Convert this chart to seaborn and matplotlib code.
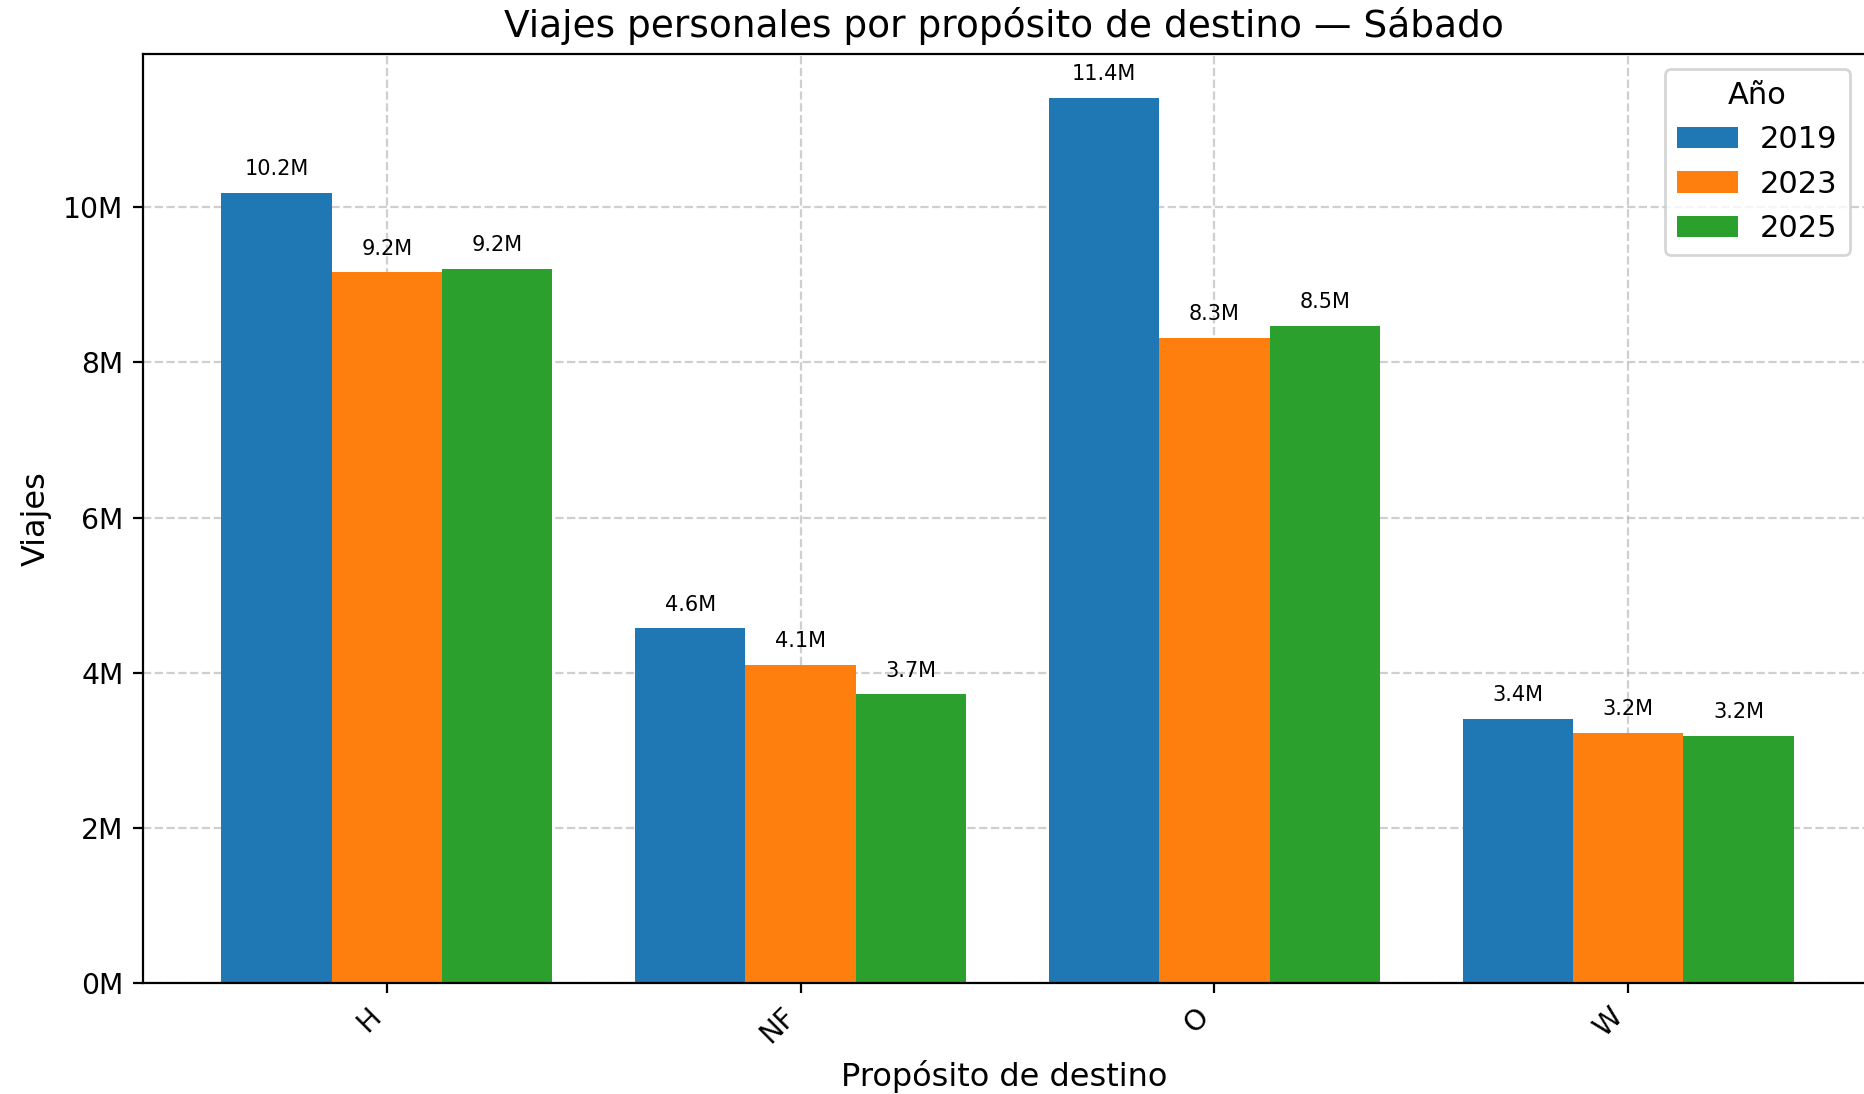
"""
Viajes personales por propósito de destino (sábado), barras agrupadas por año.
"""

import matplotlib

matplotlib.use("Agg")
import matplotlib.pyplot as plt
import pandas as pd
import seaborn as sns
from matplotlib.ticker import FuncFormatter

purposes = ["H", "NF", "O", "W"]
years = ["2019", "2023", "2025"]
trips_2019 = [10.18e6, 4.57e6, 11.41e6, 3.40e6]
trips_2023 = [9.16e6, 4.10e6, 8.31e6, 3.22e6]
trips_2025 = [9.21e6, 3.72e6, 8.47e6, 3.19e6]


def main():
    df = pd.DataFrame({
        "Propósito": purposes * 3,
        "Año": [y for y in years for _ in purposes],
        "Viajes": trips_2019 + trips_2023 + trips_2025,
    })

    fig, ax = plt.subplots(figsize=(9.325, 5.47), dpi=200)
    fig.subplots_adjust(left=0.0767, right=1.0, bottom=0.1015, top=0.951)

    sns.barplot(
        data=df, x="Propósito", y="Viajes", hue="Año",
        order=purposes, hue_order=years,
        palette=["#1f77b4", "#ff7f0e", "#2ca02c"], saturation=1,
        width=0.8, errorbar=None, ax=ax, zorder=2,
    )

    for container in ax.containers:
        ax.bar_label(
            container,
            labels=[f"{b.get_height() / 1e6:.1f}M" for b in container],
            padding=5, fontsize=7.5,
        )

    ax.set_xlim(-0.589, 3.572)
    ax.set_ylim(0, max(trips_2019) * 1.05)
    ax.yaxis.set_major_formatter(FuncFormatter(lambda v, _: f"{v / 1e6:.0f}M"))
    ax.grid(True, linestyle="--", alpha=0.6)
    for line in ax.get_xgridlines() + ax.get_ygridlines():
        line.set_zorder(3)
    ax.spines["right"].set_visible(False)

    ax.tick_params(axis="both", labelsize=10.2)
    plt.setp(ax.get_xticklabels(), rotation=45, ha="right")

    ax.set_title("Viajes personales por propósito de destino — Sábado", fontsize=13.5)
    ax.set_xlabel("Propósito de destino", fontsize=11.5)
    ax.set_ylabel("Viajes", fontsize=11.5)
    ax.legend(title="Año", loc="upper right", fontsize=11, title_fontsize=11,
              handletextpad=0.7)

    fig.savefig("out.png", dpi=200)


if __name__ == "__main__":
    main()
